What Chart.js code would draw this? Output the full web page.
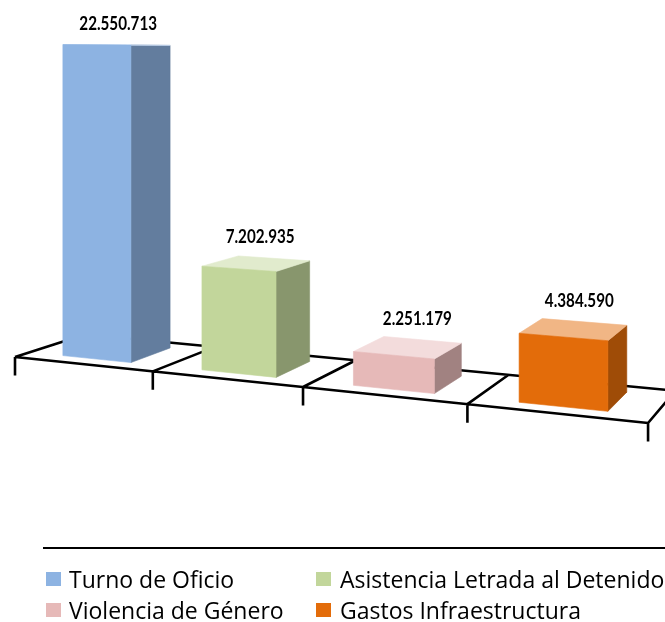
<!DOCTYPE html>
<html>
<head>
<meta charset="utf-8">
<script src="https://cdn.jsdelivr.net/npm/chart.js@4"></script>
<style>
    html, body { margin: 0; padding: 0; background: #fff; overflow: hidden; }
    canvas { display: block; }
</style>
</head>
<body>
<canvas id="chart" width="665" height="622"></canvas>
<script>
const categories = ['Turno de Oficio', 'Asistencia Letrada al Detenido', 'Violencia de Género', 'Gastos Infraestructura'];
const importes = [22550713, 7202935, 2251179, 4384590];
const barColors = ['#8db3e2', '#c2d69b', '#e6b9b8', '#e36c0a'];

// perspective of the floor, fitted by eye on the reference
const persp = { g: -0.0413, h: 0.08, b: 76.8, d: -0.97, e: 4.26 };
const depthFront = 0.2;
const depthBack = 0.81;
const labelNudgeX = [-2, 1, 7, 4];

function shade(hex, factor) {
    const n = parseInt(hex.slice(1), 16);
    const c = [n >> 16, (n >> 8) & 255, n & 255];
    const out = factor < 1 ? c.map(v => v * factor) : c.map(v => v + (255 - v) * (factor - 1));
    return `rgb(${out.map(Math.round).join(',')})`;
}

// flat chart pixel + depth (0 front, 1 back) -> picture pixel
function project(chart, px, py, z) {
    const area = chart.chartArea;
    const u = (px - area.left) / (area.width / categories.length);
    const w = 1 + persp.g * u + persp.h * z;
    return { x: (px + persp.b * z) / w, y: (py + persp.d * u + persp.e * z) / w };
}

function face(ctx, points, color) {
    ctx.beginPath();
    points.forEach((p, i) => i ? ctx.lineTo(p.x, p.y) : ctx.moveTo(p.x, p.y));
    ctx.closePath();
    ctx.fillStyle = color;
    ctx.fill();
    // hairline so the floor lines don't show through the seams
    ctx.strokeStyle = color;
    ctx.lineWidth = 0.6;
    ctx.stroke();
}

// bars stay library elements, they just paint themselves as boxes
Chart.BarElement.prototype.draw = function (ctx) {
    const chart = this.$context.chart;
    const color = this.options.backgroundColor;
    const x0 = this.x - this.width / 2;
    const x1 = this.x + this.width / 2;
    const p = (x, y, z) => project(chart, x, y, z);
    ctx.save();
    face(ctx, [p(x1, this.base, depthFront), p(x1, this.base, depthBack), p(x1, this.y, depthBack), p(x1, this.y, depthFront)], shade(color, 0.7));
    face(ctx, [p(x0, this.y, depthFront), p(x1, this.y, depthFront), p(x1, this.y, depthBack), p(x0, this.y, depthBack)], shade(color, 1.5));
    face(ctx, [p(x0, this.base, depthFront), p(x1, this.base, depthFront), p(x1, this.y, depthFront), p(x0, this.y, depthFront)], color);
    ctx.restore();
};

const floor3d = {
    id: 'floor3d',
    beforeDatasetsDraw(chart) {
        const { ctx, chartArea: area } = chart;
        const slot = area.width / categories.length;
        const bottom = area.bottom;
        const line = (a, b) => { ctx.moveTo(a.x, a.y); ctx.lineTo(b.x, b.y); };
        ctx.save();
        ctx.strokeStyle = '#000';
        ctx.lineWidth = 2.6;
        ctx.beginPath();
        line(project(chart, area.left, bottom, 0), project(chart, area.right, bottom, 0));
        line(project(chart, area.left, bottom, 1), project(chart, area.right, bottom, 1));
        for (let i = 0; i <= categories.length; i++) {
            const front = project(chart, area.left + i * slot, bottom, 0);
            line(front, project(chart, area.left + i * slot, bottom, 1));
            line(front, { x: front.x, y: front.y + 18.5 });
        }
        ctx.stroke();
        ctx.restore();
    },
    afterDatasetsDraw(chart) {
        const ctx = chart.ctx;
        ctx.save();
        ctx.fillStyle = '#000';
        ctx.textAlign = 'center';
        ctx.textBaseline = 'middle';
        ctx.font = 'bold 19px Lato';
        chart.getDatasetMeta(0).data.forEach((bar, i) => {
            const text = String(importes[i]).replace(/\B(?=(\d{3})+$)/g, '.');
            const x = project(chart, bar.x, bar.y, 0.55).x + labelNudgeX[i];
            const y = project(chart, bar.x, bar.y, depthBack).y - 21;
            // the reference font is narrower than Lato
            ctx.fillText(text, x, y, ctx.measureText(text).width * 0.8);
        });
        ctx.restore();
    }
};

const legend2col = {
    id: 'legend2col',
    afterDraw(chart) {
        const ctx = chart.ctx;
        ctx.save();
        ctx.fillStyle = '#000';
        ctx.fillRect(43, 547, 622, 2);
        ctx.font = '23px "Open Sans"';
        ctx.textBaseline = 'alphabetic';
        categories.forEach((name, i) => {
            const colX = i % 2 ? 316 : 46;
            const rowY = i < 2 ? 572 : 603;
            ctx.fillStyle = barColors[i];
            ctx.fillRect(colX, rowY, 15, 14);
            ctx.fillStyle = '#000';
            ctx.fillText(name, colX + (i % 2 ? 24 : 23), rowY + 16);
        });
        ctx.restore();
    }
};

addEventListener('DOMContentLoaded', () => {
    new Chart(document.getElementById('chart').getContext('2d'), {
        type: 'bar',
        data: {
            labels: categories,
            datasets: [{
                data: importes,
                backgroundColor: barColors,
                barPercentage: 0.5,
                categoryPercentage: 1,
                clip: false,
            }]
        },
        options: {
            responsive: false,
            animation: false,
            layout: { padding: { left: 15, right: 124, top: 10.25, bottom: 265 } },
            plugins: { legend: { display: false }, tooltip: { enabled: false } },
            scales: {
                x: { display: false },
                y: { display: false, min: 0, max: 25000000 }
            }
        },
        plugins: [floor3d, legend2col]
    });
});
</script>
</body>
</html>
